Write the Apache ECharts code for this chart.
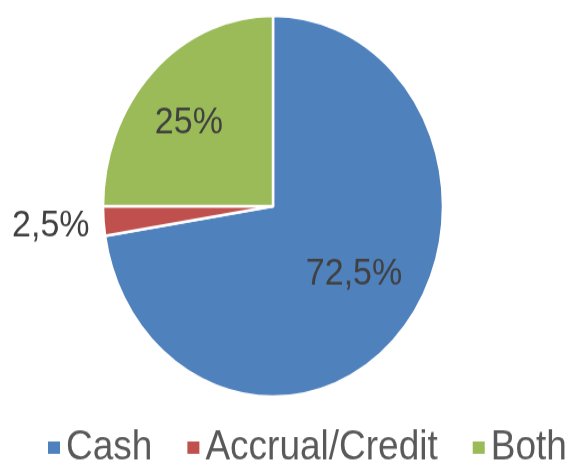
<!DOCTYPE html>
<html>
<head>
<meta charset="utf-8">
<script src="https://cdn.jsdelivr.net/npm/echarts@6/dist/echarts.min.js"></script>
<style>
  html, body { margin: 0; padding: 0; background: #fff; overflow: hidden; }
  #wrap { width: 582px; height: 465px; }
  /* reference is stretched vertically, so draw squat and stretch */
  #chart { width: 582px; height: 415px; transform: scaleY(1.1205); transform-origin: 0 0; }
</style>
</head>
<body>
<div id="wrap"><div id="chart"></div></div>
<script>
const categories = ['Cash', 'Accrual/Credit', 'Both'];
const values = [72.5, 2.5, 25];
const labelTexts = ['72,5%', '2,5%', '25%'];
const colors = ['#4F81BD', '#C0504D', '#9BBB59'];
// nudges so labels sit where Excel put them
const labelOffsets = [[-3, -11], [0, 4], [-6, 4]];

const font = '"Liberation Sans", Arial, sans-serif';
const center = [273, 184];

const mainData = categories.map((name, i) => ({
  name: name,
  value: values[i],
  itemStyle: { color: colors[i] },
  label: i === 1 ? {
    show: true,
    position: 'outside',
    formatter: labelTexts[i],
    offset: labelOffsets[i]
  } : { show: false },
  labelLine: { show: false }
}));

// invisible bigger pie only to sit inside-labels further out
const labelData = categories.map((name, i) => ({
  name: name,
  value: values[i],
  itemStyle: { color: 'rgba(0,0,0,0)' },
  label: { show: i !== 1, formatter: labelTexts[i], offset: labelOffsets[i] }
}));

const chart = echarts.init(document.getElementById('chart'));
chart.setOption({
  animation: false,
  backgroundColor: '#fff',
  legend: {
    data: categories,
    left: 41,
    right: 0,
    top: 376,
    itemWidth: 14,
    itemHeight: 13,
    itemGap: 33,
    icon: 'rect',
    textStyle: { fontFamily: font, fontSize: 37, color: '#595959' }
  },
  series: [
    {
      type: 'pie',
      center: center,
      radius: [0, 170],
      startAngle: 90,
      clockwise: true,
      avoidLabelOverlap: false,
      itemStyle: { borderColor: '#fff', borderWidth: 2.5 },
      label: { fontFamily: font, fontSize: 34, color: '#404040' },
      labelLine: { show: false, length: 9, length2: 0 },
      data: mainData
    },
    {
      type: 'pie',
      center: center,
      radius: [0, 215],
      startAngle: 90,
      clockwise: true,
      silent: true,
      legendHoverLink: false,
      label: { position: 'inside', fontFamily: font, fontSize: 34, color: '#404040' },
      labelLine: { show: false },
      data: labelData
    }
  ]
});
</script>
</body>
</html>
